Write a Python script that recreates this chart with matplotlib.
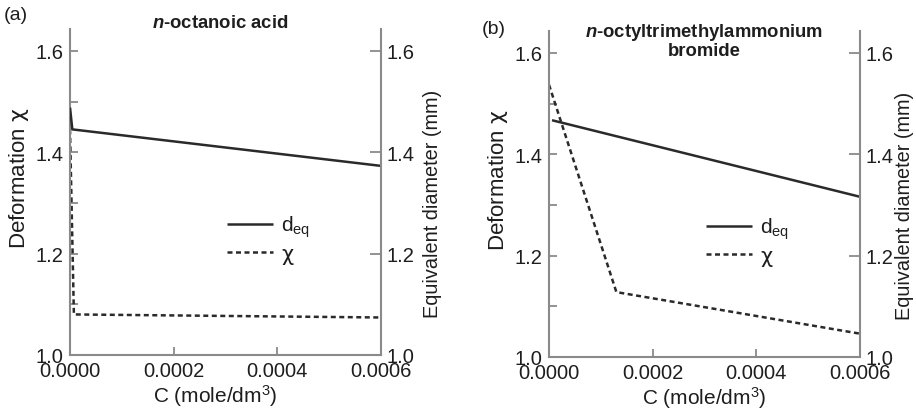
import matplotlib
matplotlib.use("Agg")
import matplotlib.pyplot as plt
from matplotlib.ticker import FormatStrFormatter

plt.rcParams['font.family'] = ['Liberation Sans', 'DejaVu Sans']
plt.rcParams['mathtext.fontset'] = 'custom'
plt.rcParams['mathtext.rm'] = 'Liberation Sans'
plt.rcParams['mathtext.it'] = 'Liberation Sans:bold:italic'
plt.rcParams['mathtext.sf'] = 'DejaVu Sans'

# Panel (a): n-octanoic acid
conc_a = [0.0, 0.0000045, 0.0006]
deq_a = [1.488, 1.445, 1.373]
conc_chi_a = [0.0, 0.0000075, 0.0006]
chi_a = [1.445, 1.080, 1.074]

# Panel (b): n-octyltrimethylammonium bromide
conc_deq_b = [0.0000058, 0.0006]
deq_b = [1.467, 1.316]
conc_chi_b = [0.0, 0.00013, 0.0006]
chi_b = [1.537, 1.128, 1.046]

titles = [r"$\mathit{n}$-octanoic acid", r"$\mathit{n}$-octyltrimethylammonium" + "\nbromide"]
panel_tags = ["(a)", "(b)"]
xticks = [0.0, 0.0002, 0.0004, 0.0006]
yticks_major = [1.0, 1.2, 1.4, 1.6]
yticks_minor = [1.1, 1.3, 1.5]

W, H = 916, 410
fig = plt.figure(figsize=(W / 100, H / 100), dpi=100)

AX_GRAY = '#8a8a8a'
LINE = '#2a2a2a'
TXT = '#1e1e1e'
TICK_FS = 14.5
LABEL_FS = 15

panels = [
    dict(left=70, right=381, top=30, bottom=356, title_xy=(220, 23),
         tag_xy=(4, 16), xlabel_x=0.467, rlabel_pad=6,
         deq=(conc_a, deq_a), chi=(conc_chi_a, chi_a)),
    dict(left=549, right=860, top=32, bottom=358, title_xy=(704, 41),
         tag_xy=(482, 30), xlabel_x=0.5, rlabel_pad=1,
         deq=(conc_deq_b, deq_b), chi=(conc_chi_b, chi_b)),
]

for i, p in enumerate(panels):
    rect = [p['left'] / W, (H - p['bottom']) / H,
            (p['right'] - p['left']) / W, (p['bottom'] - p['top']) / H]
    ax = fig.add_axes(rect)
    ax2 = ax.twinx()
    for a in (ax, ax2):
        a.set_xlim(0, 0.0006)
        a.set_ylim(1.0, 1.643)
        a.patch.set_visible(False)
        for s in a.spines.values():
            s.set_color(AX_GRAY)
            s.set_linewidth(1.5)
        a.spines['top'].set_visible(False)

    ax.spines['right'].set_visible(False)
    ax2.spines['left'].set_visible(False)
    ax2.spines['bottom'].set_visible(False)

    dash = (0, (2.0, 1.4))
    l1, = ax2.plot(p['deq'][0], p['deq'][1], color=LINE, lw=1.8,
                   solid_capstyle='butt', label=r"d$_{\rm eq}$")
    l2, = ax.plot(p['chi'][0], p['chi'][1], color=LINE, lw=1.8,
                  linestyle=dash, label=r"$\mathsf{\chi}$")

    ax.set_xticks(xticks)
    ax.xaxis.set_major_formatter(FormatStrFormatter('%.4f'))
    ax.set_yticks(yticks_major)
    ax.set_yticks(yticks_minor, minor=True)
    ax.yaxis.set_major_formatter(FormatStrFormatter('%.1f'))
    ax.tick_params(axis='both', which='both', direction='in', length=6,
                   width=1.3, color=AX_GRAY, labelsize=TICK_FS,
                   labelcolor=TXT, pad=5)
    ax.tick_params(axis='x', pad=4)
    ax.tick_params(axis='y', which='minor', labelleft=False)

    ax2.set_yticks(yticks_major)
    ax2.yaxis.set_major_formatter(FormatStrFormatter('%.1f'))
    ax2.tick_params(axis='y', direction='in', length=8, width=1.3,
                    color=AX_GRAY, labelsize=TICK_FS, labelcolor=TXT, pad=4)

    ax.set_xlabel("C (mole/dm$^3$)", fontsize=LABEL_FS, color=TXT, labelpad=2)
    ax.xaxis.label.set_x(p['xlabel_x'])
    ax.set_ylabel(r"Deformation $\mathsf{\chi}$", fontsize=16,
                  color=TXT, labelpad=3)
    ax.yaxis.label.set_y(0.545)
    ax2.set_ylabel("Equivalent diameter (mm)", fontsize=14.3, color=TXT,
                   labelpad=p['rlabel_pad'])
    ax2.yaxis.label.set_y(0.468)

    tx, ty = p['title_xy']
    fig.text(tx / W, 1 - ty / H, titles[i], ha='center', va='center',
             fontsize=13.3, fontweight='bold', color=TXT, linespacing=1.05)
    gx, gy = p['tag_xy']
    fig.text(gx / W, 1 - gy / H, panel_tags[i], ha='left', va='center',
             fontsize=14, color=TXT)

    leg = ax.legend(handles=[l1, l2], loc='upper left',
                    bbox_to_anchor=(0.505, 0.433), frameon=False,
                    fontsize=LABEL_FS, handlelength=2.2, handletextpad=0.4,
                    labelspacing=0.25, borderpad=0, borderaxespad=0)
    for t in leg.get_texts():
        t.set_color(TXT)

fig.savefig("out.png", dpi=100)
